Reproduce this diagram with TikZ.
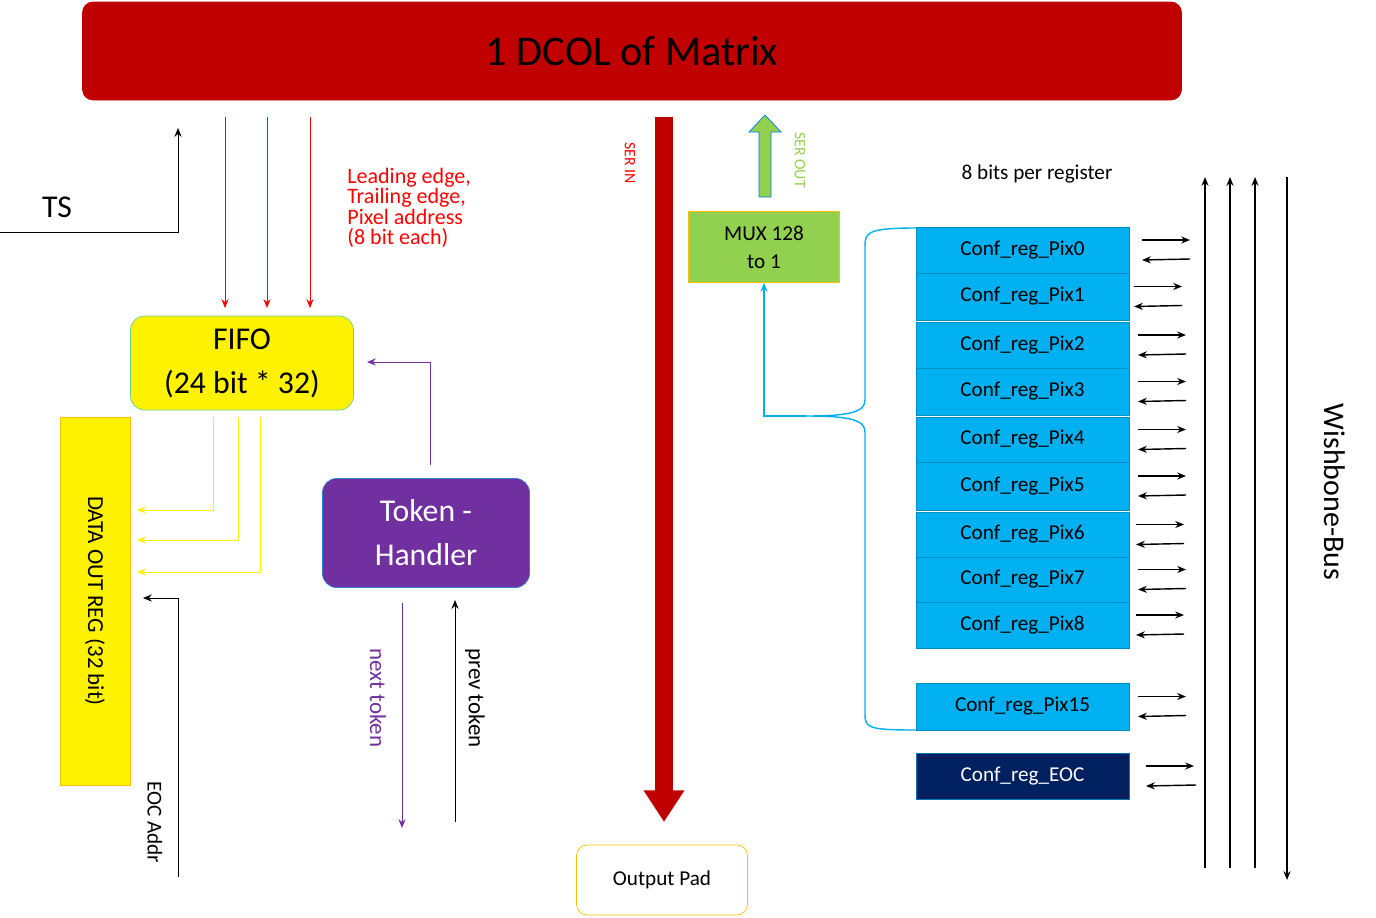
\documentclass[tikz,border=0pt]{standalone}
\usepackage{fontspec}
\setmainfont{Carlito}
\usetikzlibrary{arrows.meta}
\definecolor{dred}{HTML}{C00000}
\definecolor{cyanb}{HTML}{00B0F0}
\definecolor{navy}{HTML}{002060}
\definecolor{purp}{HTML}{7030A0}
\definecolor{lgreen}{HTML}{92D050}
\definecolor{orng}{HTML}{FFC000}
\begin{document}
\begin{tikzpicture}[x=0.567pt,y=-0.567pt,
 reg/.style={draw=cyanb!80!black,fill=cyanb,minimum width=213*0.567pt,inner sep=0pt,font=\fontsize{12}{14}\selectfont},
 ar/.style={-{Stealth[length=5pt,width=4pt]}},
 sm/.style={-{Stealth[length=5pt,width=4pt]},line width=0.8pt}]
\useasboundingbox (0,0) rectangle (1376,917);
\node[draw=dred,fill=dred,rounded corners=6pt,minimum width=1099*0.567pt,minimum height=98*0.567pt,font=\fontsize{24}{28}\selectfont] (title) at (632,51) {1 DCOL of Matrix};
% TS
\node[font=\fontsize{18}{20}\selectfont] (ts) at (57,207) {TS};
\coordinate (tsa) at (0,232);
\coordinate (tsb) at (178,128);
\draw[ar] (tsa) -| (tsb);
% red arrows
\foreach \x/\n in {225/a,267/b,310/c}{
 \coordinate (r\n1) at (\x,117); \coordinate (r\n2) at (\x,308);
 \draw[ar,red] (r\n1) -- (r\n2);}
\node[red,align=left,anchor=north west,font=\fontsize{12.5}{11.5}\selectfont,inner sep=0pt] (lead) at (347,168) {Leading edge,\\Trailing edge,\\Pixel address\\(8 bit each)};
% FIFO
\node[draw=cyanb!60!yellow,fill=yellow,rounded corners=8pt,minimum width=223*0.567pt,minimum height=94*0.567pt,align=center,font=\fontsize{18}{25}\selectfont] (fifo) at (242,363) {FIFO\\(24 bit * 32)};
\node[draw=orng,fill=yellow,minimum width=70*0.567pt,minimum height=368*0.567pt,inner sep=0pt] (dout) at (95,601) {};
\node[rotate=-90,font=\fontsize{13}{15}\selectfont] (doutt) at (95,601) {DATA OUT REG (32 bit)};
\foreach \x/\y/\n in {213/510/a,238/540/b,260/572/c}{
 \coordinate (y\n1) at (\x,417); \coordinate (y\n2) at (137,\y);
 \draw[ar,yellow] (y\n1) |- (y\n2);}
\coordinate (eoc1) at (178,877); \coordinate (eoc2) at (143,598);
\draw[ar] (eoc1) |- (eoc2);
\node[rotate=-90,font=\fontsize{12}{14}\selectfont] (eoct) at (155,822) {EOC Addr};
% token
\node[draw=cyanb!60!purp,fill=purp,rounded corners=8pt,minimum width=207*0.567pt,minimum height=109*0.567pt,align=center,text=white,font=\fontsize{18}{25}\selectfont] (tok) at (426,533) {Token -\\Handler};
\coordinate (p1) at (430,465); \coordinate (p2) at (367,362);
\draw[ar,purp] (p1) |- (p2);
\coordinate (n1) at (402,603); \coordinate (n2) at (402,828);
\draw[ar,purp] (n1) -- (n2);
\node[rotate=-90,purp,font=\fontsize{13}{15}\selectfont] (nt) at (378,698) {next token};
\coordinate (pv1) at (455,822); \coordinate (pv2) at (455,600);
\draw[ar] (pv1) -- (pv2);
\node[rotate=-90,font=\fontsize{13}{15}\selectfont] (pt) at (475,698) {prev token};
% SER IN
\node[rotate=-90,red,font=\fontsize{9}{10}\selectfont] (serin) at (630,163) {SER IN};
\coordinate (s1) at (664,117); \coordinate (s2) at (664,822);
\draw[dred,line width=10pt,-{Triangle[length=18pt,width=22pt]}] (s1) -- (s2);
\node[draw=orng,rounded corners=6pt,minimum width=171*0.567pt,minimum height=70*0.567pt,font=\fontsize{12}{14}\selectfont] (pad) at (662,880) {Output Pad};
% MUX
\node[draw=orng,fill=lgreen,minimum width=151*0.567pt,minimum height=71*0.567pt,align=center,font=\fontsize{12}{16}\selectfont] (mux) at (764,247) {MUX 128\\to 1};
\draw[draw=cyanb!70!blue,fill=lgreen] (759,197) -- (759,132) -- (749,132) -- (765,115) -- (781,132) -- (771,132) -- (771,197) -- cycle;
\node[rotate=-90,lgreen,font=\fontsize{9}{10}\selectfont] (serout) at (800,160) {SER OUT};
% brace
\coordinate (bt) at (806,416);
\draw[cyanb,line width=0.8pt] (916,228) .. controls (870,228) and (865,232) .. (865,245) -- (865,400) .. controls (865,412) and (850,416) .. (bt) .. controls (850,416) and (865,420) .. (865,432) -- (865,715) .. controls (865,728) and (870,730) .. (916,730);
\draw[ar,cyanb,line width=0.8pt] (bt) -| (mux.south);
\node[font=\fontsize{12}{14}\selectfont] (bits) at (1037,174) {8 bits per register};
% regs
\foreach \n/\a/\b/\dx in {0/227/273/0,1/273/320/-8,2/322/368/-4,3/368/415/-4,4/417/462/-4,5/462/510/-4,6/512/557/-6,7/557/602/-4,8/602/648/-6,15/683/730/-4}{
 \node[reg,minimum height={(\b-\a)*0.567pt}] (pix\n) at (1022.5,{(\a+\b)/2}) {Conf\_reg\_Pix\n};
 \coordinate (ra\n) at ({1142+\dx},{(\a+\b)/2-10});
 \coordinate (rb\n) at ({1190+\dx},{(\a+\b)/2-10});
 \coordinate (la\n) at ({1190+\dx},{(\a+\b)/2+9});
 \coordinate (lb\n) at ({1142+\dx},{(\a+\b)/2+10});
 \draw[sm] (ra\n) -- (rb\n); \draw[sm] (la\n) -- (lb\n);}
\node[draw=cyanb!60!navy,fill=navy,text=white,minimum width=213*0.567pt,minimum height=46*0.567pt,font=\fontsize{12}{14}\selectfont] (eoc) at (1022.5,776) {Conf\_reg\_EOC};
\coordinate (ea1) at (1146,766); \coordinate (ea2) at (1194,766);
\coordinate (eb1) at (1196,785); \coordinate (eb2) at (1146,786);
\draw[sm] (ea1) -- (ea2); \draw[sm] (eb1) -- (eb2);
% wishbone
\foreach \x/\n in {1205/a,1230/b,1255/c}{
 \coordinate (w\n1) at (\x,868); \coordinate (w\n2) at (\x,177);
 \draw[sm] (w\n1) -- (w\n2);}
\coordinate (wd1) at (1287,177); \coordinate (wd2) at (1287,880);
\draw[sm] (wd1) -- (wd2);
\node[rotate=-90,font=\fontsize{17}{20}\selectfont] (wb) at (1335,492) {Wishbone-Bus};
\end{tikzpicture}
\end{document}
